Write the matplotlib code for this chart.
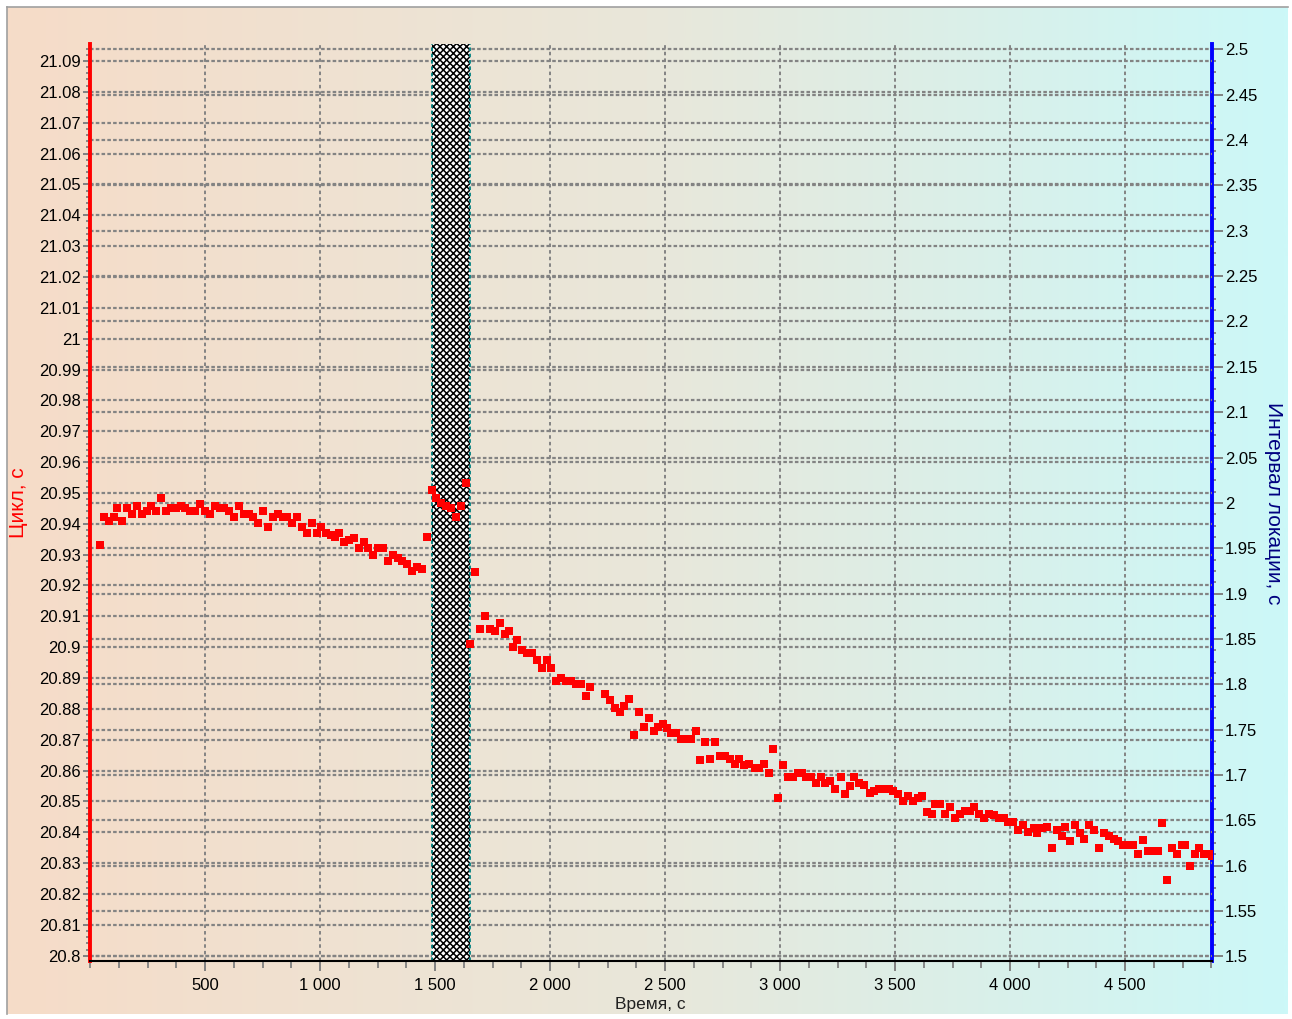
import matplotlib

matplotlib.use("Agg")
import matplotlib.pyplot as plt
import numpy as np
from matplotlib.colors import LinearSegmentedColormap
from matplotlib.lines import Line2D
from matplotlib.ticker import AutoMinorLocator, FixedLocator, FuncFormatter, MultipleLocator

plt.rcParams["font.family"] = ["Liberation Sans", "DejaVu Sans"]
plt.rcParams["hatch.linewidth"] = 1.1

# время (с) и длительность цикла (с) для каждого измерения
time_s = [
    45, 62, 84, 106, 119, 141, 162, 184, 206, 228,
    249, 267, 288, 310, 332, 354, 375, 397, 415, 436,
    458, 480, 501, 523, 545, 567, 584, 606, 628, 649,
    671, 693, 710, 732, 754, 775, 797, 819, 841, 858,
    880, 901, 923, 945, 967, 988, 1006, 1028, 1049, 1067,
    1084, 1106, 1128, 1149, 1171, 1193, 1210, 1232, 1254, 1275,
    1297, 1319, 1341, 1358, 1380, 1401, 1423, 1445, 1467, 1488,
    1506, 1528, 1549, 1571, 1593, 1615, 1636, 1654, 1675, 1697,
    1719, 1741, 1762, 1783, 1805, 1823, 1840, 1858, 1880, 1901,
    1923, 1945, 1967, 1988, 2006, 2028, 2049, 2071, 2093, 2114,
    2136, 2158, 2175, 2241, 2262, 2284, 2305, 2323, 2345, 2366,
    2388, 2410, 2432, 2453, 2471, 2493, 2509, 2528, 2549, 2571,
    2593, 2615, 2636, 2653, 2675, 2697, 2719, 2740, 2762, 2784,
    2806, 2823, 2845, 2867, 2889, 2910, 2932, 2954, 2971, 2993,
    3015, 3036, 3058, 3080, 3097, 3115, 3136, 3158, 3176, 3197,
    3219, 3241, 3263, 3284, 3302, 3323, 3345, 3367, 3389, 3410,
    3432, 3454, 3475, 3493, 3515, 3536, 3558, 3580, 3600, 3619,
    3640, 3662, 3675, 3697, 3719, 3741, 3762, 3784, 3806, 3828,
    3845, 3867, 3888, 3910, 3932, 3954, 3975, 3993, 4014, 4036,
    4058, 4080, 4102, 4119, 4141, 4162, 4184, 4206, 4228, 4241,
    4262, 4284, 4306, 4323, 4345, 4367, 4388, 4410, 4432, 4454,
    4471, 4493, 4514, 4536, 4558, 4580, 4601, 4623, 4645, 4662,
    4684, 4706, 4728, 4749, 4762, 4784, 4806, 4823, 4845, 4867,
    4876,
]
cycle_s = [
    20.9331, 20.9423, 20.9410, 20.9423, 20.9452, 20.9410, 20.9452, 20.9433, 20.9459, 20.9433,
    20.9443, 20.9459, 20.9443, 20.9482, 20.9443, 20.9452, 20.9452, 20.9459, 20.9452, 20.9443,
    20.9443, 20.9465, 20.9443, 20.9433, 20.9459, 20.9452, 20.9452, 20.9443, 20.9423, 20.9459,
    20.9433, 20.9433, 20.9423, 20.9401, 20.9443, 20.9391, 20.9423, 20.9433, 20.9423, 20.9423,
    20.9401, 20.9423, 20.9391, 20.9371, 20.9401, 20.9371, 20.9391, 20.9371, 20.9365, 20.9358,
    20.9371, 20.9342, 20.9349, 20.9355, 20.9323, 20.9342, 20.9323, 20.9300, 20.9323, 20.9323,
    20.9281, 20.9300, 20.9290, 20.9281, 20.9271, 20.9248, 20.9261, 20.9255, 20.9358, 20.9511,
    20.9482, 20.9469, 20.9459, 20.9452, 20.9423, 20.9459, 20.9533, 20.9012, 20.9244, 20.9058,
    20.9100, 20.9058, 20.9051, 20.9077, 20.9042, 20.9051, 20.9000, 20.9022, 20.8990, 20.8980,
    20.8980, 20.8957, 20.8931, 20.8957, 20.8931, 20.8889, 20.8899, 20.8889, 20.8889, 20.8880,
    20.8880, 20.8842, 20.8870, 20.8847, 20.8828, 20.8802, 20.8789, 20.8811, 20.8831, 20.8717,
    20.8789, 20.8743, 20.8769, 20.8730, 20.8743, 20.8750, 20.8737, 20.8721, 20.8721, 20.8701,
    20.8701, 20.8701, 20.8730, 20.8633, 20.8692, 20.8637, 20.8692, 20.8649, 20.8649, 20.8637,
    20.8620, 20.8637, 20.8617, 20.8620, 20.8610, 20.8607, 20.8620, 20.8591, 20.8669, 20.8512,
    20.8617, 20.8578, 20.8578, 20.8591, 20.8591, 20.8578, 20.8578, 20.8559, 20.8578, 20.8559,
    20.8568, 20.8539, 20.8578, 20.8523, 20.8549, 20.8578, 20.8559, 20.8552, 20.8526, 20.8533,
    20.8539, 20.8539, 20.8539, 20.8533, 20.8523, 20.8503, 20.8518, 20.8500, 20.8512, 20.8517,
    20.8467, 20.8458, 20.8491, 20.8491, 20.8458, 20.8481, 20.8448, 20.8458, 20.8468, 20.8468,
    20.8481, 20.8458, 20.8448, 20.8461, 20.8455, 20.8448, 20.8448, 20.8432, 20.8432, 20.8406,
    20.8425, 20.8400, 20.8413, 20.8397, 20.8413, 20.8416, 20.8348, 20.8406, 20.8387, 20.8416,
    20.8371, 20.8423, 20.8397, 20.8380, 20.8423, 20.8406, 20.8348, 20.8397, 20.8387, 20.8380,
    20.8371, 20.8358, 20.8358, 20.8358, 20.8329, 20.8374, 20.8338, 20.8338, 20.8338, 20.8429,
    20.8244, 20.8348, 20.8329, 20.8358, 20.8358, 20.8290, 20.8329, 20.8348, 20.8329, 20.8329,
    20.8323,
]

# интервал, выделенный штриховкой
band_start, band_end = 1485, 1652

x_major = [500, 1000, 1500, 2000, 2500, 3000, 3500, 4000, 4500]
x_lim = (0, 4878)
cycle_lim = (20.7983, 21.0955)
interval_lim = (1.495, 2.5058)

W, H = 1292, 1019
fig = plt.figure(figsize=(W / 100, H / 100), dpi=100)
fig.patch.set_facecolor("white")

# фон панели: плавный переход от персикового к голубому
bg = fig.add_axes([7 / W, 1 - 1014 / H, (1288 - 7) / W, (1014 - 7) / H], zorder=-10)
grad_cmap = LinearSegmentedColormap.from_list(
    "panel", ["#f6dcc8", "#e9e7da", "#ccf8f8"]
)
bg.imshow(np.linspace(0, 1, 512)[None, :], aspect="auto", cmap=grad_cmap,
          extent=[0, 1, 0, 1])
bg.set_axis_off()
fig.add_artist(Line2D([7 / W, 1288 / W], [1 - 7 / H] * 2, color="#a0a0a0", lw=1.2))
fig.add_artist(Line2D([7 / W] * 2, [1 - 7 / H, 1 - 1014 / H], color="#a0a0a0", lw=1.2))

ax = fig.add_axes([90 / W, 1 - 961 / H, (1212 - 90) / W, (961 - 44) / H])
ax2 = ax.twinx()
ax.set_zorder(ax2.get_zorder() + 1)
ax.patch.set_visible(False)
ax2.patch.set_visible(False)

grid_kw = dict(color="#838383", linewidth=1.6, linestyle=(0, (1.6, 1.0)))

# левая ось: цикл
ax.set_xlim(*x_lim)
ax.set_ylim(*cycle_lim)
ax.set_axisbelow(True)
ax.yaxis.set_major_locator(MultipleLocator(0.01))
ax.yaxis.set_minor_locator(AutoMinorLocator(5))
ax.yaxis.set_major_formatter(FuncFormatter(lambda v, p: f"{round(v, 2):g}"))
ax.grid(axis="y", which="major", **grid_kw)
ax.xaxis.set_major_locator(FixedLocator(x_major))
ax.xaxis.set_minor_locator(MultipleLocator(125))
ax.xaxis.set_major_formatter(FuncFormatter(lambda v, p: f"{int(v):,}".replace(",", " ")))
ax.grid(axis="x", which="major", color="#838383", linewidth=1.4, linestyle=(0, (1.8, 1.6)))

ax.tick_params(axis="y", which="major", length=5, width=1.4, color="#808080",
               labelsize=12, pad=1.5)
ax.tick_params(axis="y", which="minor", length=3, width=1.3, color="#808080")
ax.tick_params(axis="x", which="major", length=7, width=1.4, color="#808080",
               labelsize=12, pad=5)
ax.tick_params(axis="x", which="minor", length=5, width=1.3, color="#808080")

for side in ("top", "right"):
    ax.spines[side].set_visible(False)
ax.spines["left"].set_color("#ff0000")
ax.spines["left"].set_linewidth(2.8)
ax.spines["bottom"].set_color("black")
ax.spines["bottom"].set_linewidth(1.5)

# правая ось: интервал локации
ax2.set_ylim(*interval_lim)
ax2.yaxis.set_major_locator(MultipleLocator(0.05))
ax2.yaxis.set_minor_locator(AutoMinorLocator(4))
ax2.yaxis.set_major_formatter(FuncFormatter(lambda v, p: f"{round(v, 2):g}"))
ax2.grid(axis="y", which="major", **grid_kw)
ax2.tick_params(axis="y", which="major", length=8, width=1.4, color="#808080",
                labelsize=12, pad=1.5)
ax2.tick_params(axis="y", which="minor", length=3, width=1.3, color="#808080")
for side in ("top", "left", "bottom"):
    ax2.spines[side].set_visible(False)
ax2.spines["right"].set_color("#0000ff")
ax2.spines["right"].set_linewidth(2.8)

# штрихованная полоса
ax.axvspan(band_start, band_end, facecolor="white", edgecolor="black",
           hatch="xxxxx", linewidth=0, zorder=1)
for xb in (band_start, band_end):
    ax.axvline(xb, color="#008080", lw=1.3, linestyle=(0, (2, 1.5)), zorder=1.1)

ax.plot(time_s, cycle_s, linestyle="none", marker="s", markersize=5.6,
        color="#ff0000", markeredgewidth=0, zorder=3)

fig.text(18 / W, 1 - 503 / H, "Цикл, с", rotation=90, ha="center", va="center",
         color="#ff0000", fontsize=15)
fig.text(1274 / W, 1 - 503 / H, "Интервал локации, с", rotation=270, ha="center",
         va="center", color="#000080", fontsize=15)
fig.text(650 / W, 1 - 1004 / H, "Время, с", ha="center", va="center",
         color="#202020", fontsize=12.5)

fig.savefig("out.png", dpi=100)
